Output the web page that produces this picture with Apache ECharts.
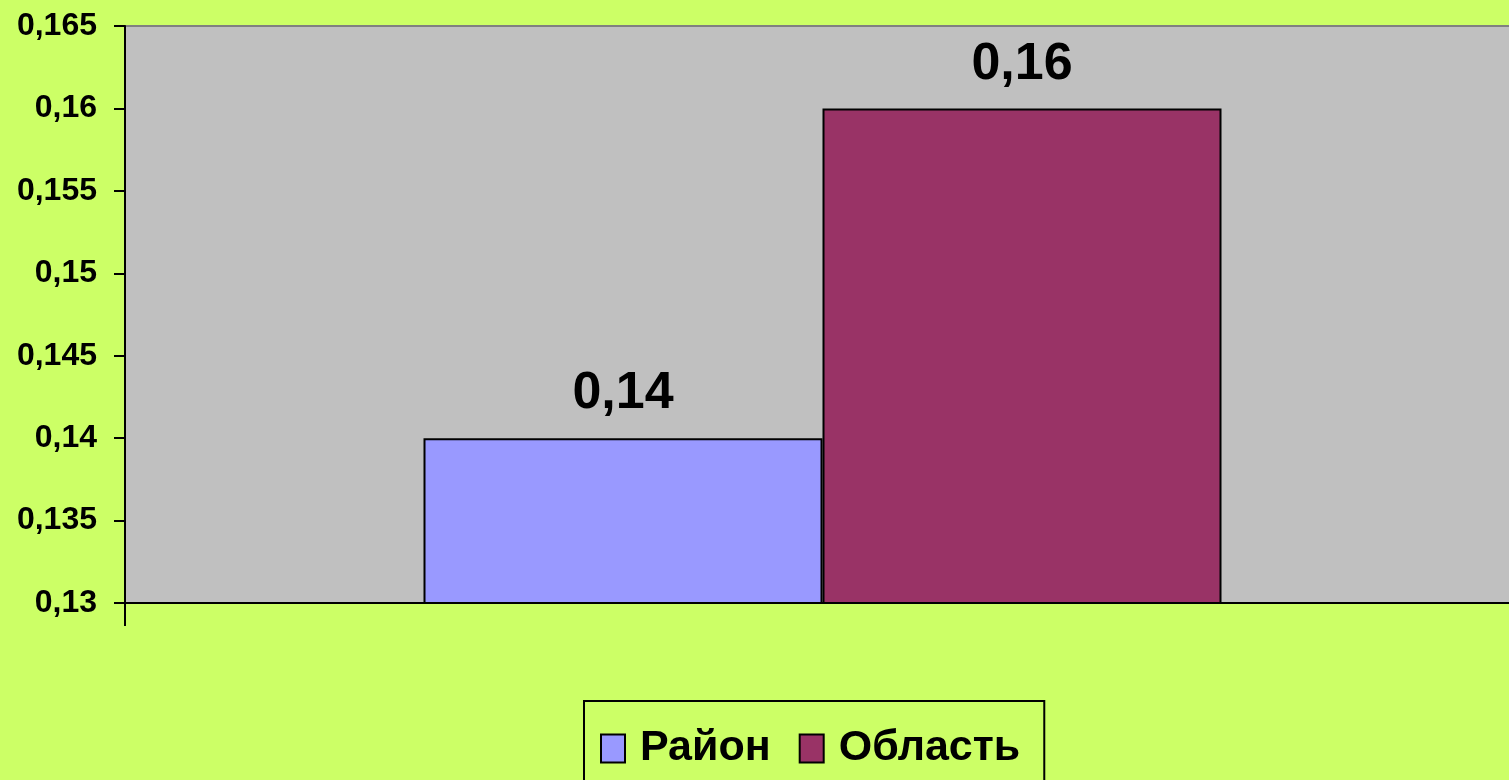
<!DOCTYPE html>
<html><head><meta charset="utf-8">
<script src="https://cdn.jsdelivr.net/npm/echarts@6/dist/echarts.min.js"></script>
<style>html,body{margin:0;padding:0;background:#CCFF66;overflow:hidden;}#c{width:1520px;height:780px;}</style>
</head><body><div id="c"></div>
<script>
const categories = [''];
const seriesNames = ['Район', 'Область'];
const rayonValues = [0.14];
const oblastValues = [0.16];
const colors = ['#9999FF', '#993366'];
const fmt = v => String(+(+v).toFixed(3)).replace('.', ',');
const chart = echarts.init(document.getElementById('c'));
const font = '"Liberation Sans", Arial, sans-serif';
chart.setOption({
  backgroundColor: '#CCFF66',
  animation: false,
  grid: { left: 125, right: 0, top: 26, bottom: 177, show: true, backgroundColor: '#C0C0C0', borderColor: '#808080', borderWidth: 2 },
  legend: {
    data: seriesNames, left: 584, top: 701, orient: 'horizontal',
    borderColor: '#000', borderWidth: 2, backgroundColor: 'transparent',
    padding: [26, 24, 40, 16], itemGap: 28, itemWidth: 24, itemHeight: 28, icon: 'rect',
    textStyle: { fontFamily: font, fontWeight: 'bold', fontSize: 43, color: '#000', padding: [0, 0, 0, 10] },
    itemStyle: { borderColor: '#000', borderWidth: 2 }
  },
  xAxis: {
    type: 'category', data: categories,
    axisLine: { lineStyle: { color: '#000', width: 2 } },
    axisTick: { show: true, length: 23, lineStyle: { color: '#000', width: 2 } },
    axisLabel: { show: false }, splitLine: { show: false }
  },
  yAxis: {
    type: 'value', min: 0.13, max: 0.165, interval: 0.005,
    axisLine: { show: true, lineStyle: { color: '#000', width: 2 } },
    axisTick: { show: true, length: 11, lineStyle: { color: '#000', width: 2 } },
    axisLabel: { formatter: fmt, fontFamily: font, fontWeight: 'bold', fontSize: 32, color: '#000', margin: 28 },
    splitLine: { show: false }
  },
  series: [
    { name: seriesNames[0], type: 'bar', data: rayonValues, barWidth: 399, barGap: '0%',
      itemStyle: { color: colors[0], borderColor: '#000', borderWidth: 2 },
      label: { show: true, position: 'top', distance: 18, formatter: p => fmt(p.value), fontFamily: font, fontWeight: 'bold', fontSize: 52, color: '#000' } },
    { name: seriesNames[1], type: 'bar', data: oblastValues, barWidth: 399, barGap: '0%',
      itemStyle: { color: colors[1], borderColor: '#000', borderWidth: 2 },
      label: { show: true, position: 'top', distance: 18, formatter: p => fmt(p.value), fontFamily: font, fontWeight: 'bold', fontSize: 52, color: '#000' } }
  ]
});
</script></body></html>
